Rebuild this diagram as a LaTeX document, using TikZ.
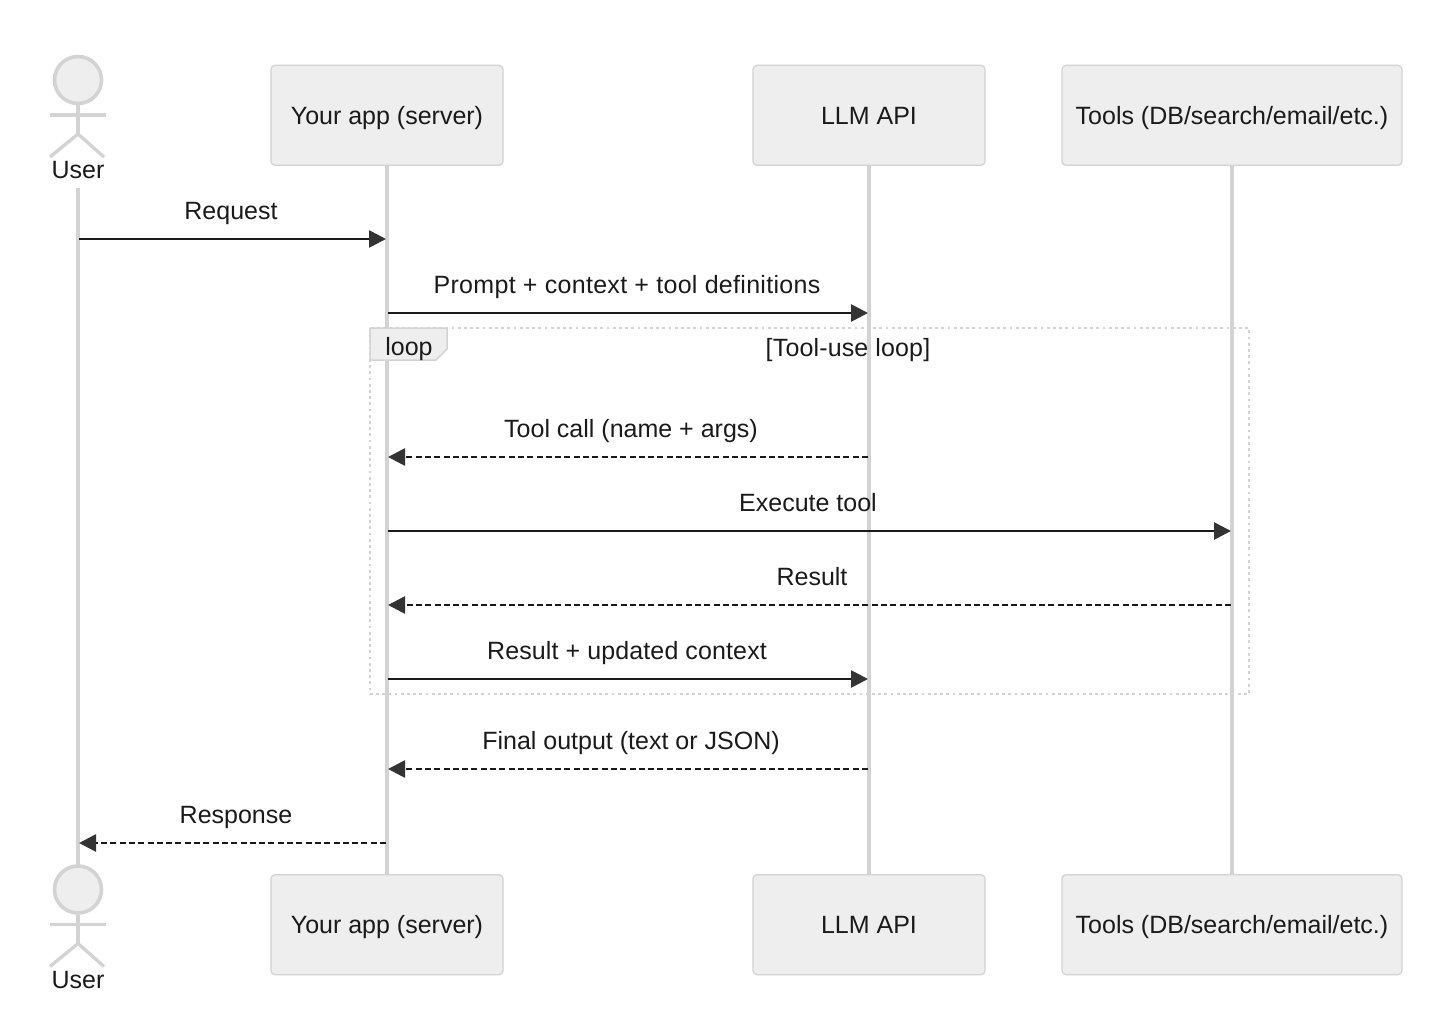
\documentclass[tikz,border=0pt]{standalone}
\usepackage{fontspec}
\setmainfont{Liberation Sans}
\usetikzlibrary{arrows.meta}
\definecolor{lifec}{HTML}{D3D3D3}
\definecolor{boxfill}{HTML}{EEEEEE}
\definecolor{ink}{HTML}{1A1A1A}
\definecolor{tipc}{HTML}{333333}
\tikzset{
  x=1pt,y=-1pt,
  every node/.style={font=\fontsize{25}{30}\selectfont,text=ink,inner sep=0pt},
  partbox/.style={draw=lifec,fill=boxfill,line width=1.3pt,rounded corners=4pt,minimum height=100pt,anchor=north,text height=18pt,text depth=0pt,text centered},
  lifeline/.style={draw=lifec,line width=3.3pt},
  actorline/.style={draw=lifec,line width=3.3pt},
  actorhead/.style={draw=lifec,fill=boxfill,line width=3.6pt,circle,minimum size=47pt},
  msg/.style={draw=ink,line width=2.7pt,-{Triangle[length=17pt,width=17pt,color=tipc]}},
  reply/.style={msg,dash pattern=on 6pt off 3.3pt},
  msgtext/.style={anchor=base},
  loopframe/.style={draw=lifec,line width=2.8pt,dash pattern=on 2.8pt off 3.4pt},
  looptag/.style={draw=lifec,fill=boxfill,line width=1.5pt},
}
\begin{document}
\begin{tikzpicture}
\useasboundingbox (0,0) rectangle (1456,1035);
% participants
\node[partbox,minimum width=232pt] (appT) at (387,64.7) {Your app (server)};
\node[partbox,minimum width=232pt] (llmT) at (869,64.7) {LLM API};
\node[partbox,minimum width=340pt] (toolT) at (1232,64.7) {Tools (DB/search/email/etc.)};
\node[partbox,minimum width=232pt] (appB) at (387,874) {Your app (server)};
\node[partbox,minimum width=232pt] (llmB) at (869,874) {LLM API};
\node[partbox,minimum width=340pt] (toolB) at (1232,874) {Tools (DB/search/email/etc.)};
\node[anchor=base] (userT) at (78,179) {User};
\node[anchor=base] (userB) at (78,988) {User};
\coordinate (userL1) at (78,188);
\coordinate (userL2) at (78,866);
% lifelines
\draw[lifeline] (userL1) -- (userL2);
\draw[lifeline] (appT.south) -- (appB.north);
\draw[lifeline] (llmT.south) -- (llmB.north);
\draw[lifeline] (toolT.south) -- (toolB.north);
% actors
\foreach \n/\o in {T/0,B/809.5}{
  \begin{scope}[yshift=-\o pt]
    \node[actorhead] (head\n) at (78,80) {};
    \coordinate (hip\n) at (78,134);
    \coordinate (armL\n) at (50,115);
    \coordinate (armR\n) at (106,115);
    \coordinate (legL\n) at (50,157);
    \coordinate (legR\n) at (104,157);
    \draw[actorline] (head\n.south) -- (hip\n);
    \draw[actorline] (armL\n) -- (armR\n);
    \draw[actorline] (legL\n) -- (hip\n) -- (legR\n);
  \end{scope}
}
% loop
\coordinate (loopA) at (370,328);
\coordinate (loopB) at (1249,694);
\draw[loopframe] (loopA) rectangle (loopB);
\coordinate (tagA) at (370,328);
\coordinate (tagB) at (447,328);
\coordinate (tagC) at (447,349);
\coordinate (tagD) at (436,360);
\coordinate (tagE) at (370,360);
\draw[looptag] (tagA) -- (tagB) -- (tagC) -- (tagD) -- (tagE) -- cycle;
\node[anchor=base] (looplabel) at (409,355) {loop};
\node[anchor=base] (looptitle) at (848,356) {\addfontfeature{LetterSpace=0.6}[Tool-use loop]};
% message ends
\coordinate (u1) at (79,239);  \coordinate (a1) at (386,239);
\coordinate (a2) at (388,313); \coordinate (l2) at (868,313);
\coordinate (l3) at (868,457); \coordinate (a3) at (388,457);
\coordinate (a4) at (388,531); \coordinate (t4) at (1231,531);
\coordinate (t5) at (1231,605);\coordinate (a5) at (388,605);
\coordinate (a6) at (388,679); \coordinate (l6) at (868,679);
\coordinate (l7) at (868,769); \coordinate (a7) at (388,769);
\coordinate (a8) at (386,843); \coordinate (u8) at (79,843);
\draw[msg] (u1) -- (a1);
\draw[msg] (a2) -- (l2);
\draw[reply] (l3) -- (a3);
\draw[msg] (a4) -- (t4);
\draw[reply] (t5) -- (a5);
\draw[msg] (a6) -- (l6);
\draw[reply] (l7) -- (a7);
\draw[reply] (a8) -- (u8);
% message labels
\node[msgtext] (lab1) at (231,219) {Request};
\node[msgtext] (lab2) at (627,293) {\addfontfeature{LetterSpace=1.2}Prompt + context + tool definitions};
\node[msgtext] (lab3) at (631,437) {Tool call (name + args)};
\node[msgtext] (lab4) at (808,511) {Execute tool};
\node[msgtext] (lab5) at (812,585) {Result};
\node[msgtext] (lab6) at (627,659) {\addfontfeature{LetterSpace=0.5}Result + updated context};
\node[msgtext] (lab7) at (631,749) {Final output (text or JSON)};
\node[msgtext] (lab8) at (236,823) {Response};
\end{tikzpicture}
\end{document}
